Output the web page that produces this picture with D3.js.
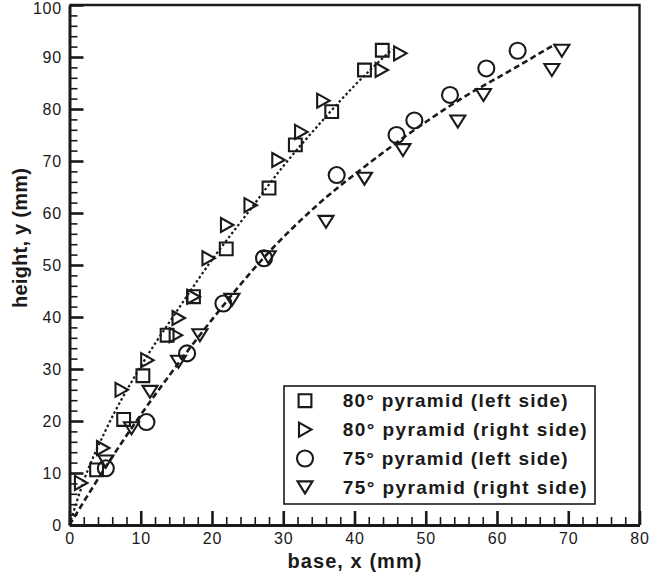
<!DOCTYPE html>
<html>
<head>
<meta charset="utf-8">
<script src="https://cdn.jsdelivr.net/npm/d3@7"></script>
<style>
  html, body { margin: 0; padding: 0; background: #fff; }
  svg { display: block; }
  text { font-family: "Liberation Sans", Arial, sans-serif; fill: #1a1a1a; }
</style>
</head>
<body>
<svg id="chart" width="651" height="579"></svg>
<script>
// ---- data ----
const sq80X  = [43.9, 41.4, 36.8, 31.7, 28.0, 22.0, 17.4, 13.7, 10.3, 7.6, 3.8];
const sq80Y  = [91.3, 87.5, 79.5, 73.1, 64.8, 53.1, 43.9, 36.5, 28.7, 20.3, 10.6];

const rt80X  = [46.4, 43.8, 35.6, 32.5, 29.3, 25.4, 22.1, 19.5, 17.4, 15.3, 14.9, 10.9, 7.3, 4.7, 1.6];
const rt80Y  = [90.7, 87.5, 81.6, 75.6, 70.2, 61.5, 57.7, 51.3, 43.9, 39.8, 36.5, 31.7, 26.0, 14.8, 8.1];

const ci75X  = [62.9, 58.5, 53.4, 48.4, 45.9, 37.5, 27.3, 21.6, 16.5, 10.8, 5.1];
const ci75Y  = [91.2, 87.8, 82.7, 77.8, 75.0, 67.3, 51.3, 42.6, 33.0, 19.8, 10.9];

const dn75X  = [69.1, 67.7, 58.1, 54.5, 46.8, 41.4, 36.0, 27.9, 22.8, 18.3, 15.3, 11.3, 8.7, 5.1];
const dn75Y  = [91.2, 87.5, 82.7, 77.6, 72.1, 66.6, 58.3, 51.5, 43.3, 36.5, 31.4, 25.6, 18.6, 12.2];

// fitted trend lines
const fit80X = [0, 2, 5, 10, 15, 20, 25, 30, 35, 40, 45.3];
const fit80Y = [0, 8.5, 18, 30.5, 41, 51, 60, 69, 77, 84.5, 91.5];
const fit75X = [0, 5, 9.4, 13.6, 20, 27.2, 35, 41.5, 50, 55, 62, 68.2];
const fit75Y = [0, 11, 20, 28, 39.5, 51.3, 61.8, 69, 77.5, 82, 87.5, 92.5];

const xTicks = [0, 10, 20, 30, 40, 50, 60, 70, 80];
const yTicks = [0, 10, 20, 30, 40, 50, 60, 70, 80, 90, 100];
const legendLabels = ["80° pyramid (left side)", "80° pyramid (right side)",
                      "75° pyramid (left side)", "75° pyramid (right side)"];

// ---- layout ----
const INK = "#1a1a1a";
const svg = d3.select("#chart");
const x = d3.scaleLinear().domain([0, 80]).range([69.5, 639.5]);
const y = d3.scaleLinear().domain([0, 100]).range([525, 5]);

// frame (top & right)
svg.append("path")
  .attr("d", `M${x(0)},${y(100)} H${x(80)} V${y(0)}`)
  .attr("fill", "none").attr("stroke", INK).attr("stroke-width", 2.4);

// minor ticks
const xMinor = d3.range(0, 81, 2).filter(v => v % 10 !== 0);
const yMinor = d3.range(0, 101, 2).filter(v => v % 10 !== 0);
svg.append("g").attr("transform", `translate(0,${y(0)})`)
  .call(d3.axisBottom(x).tickValues(xMinor).tickSize(-8).tickFormat(""))
  .call(g => g.select(".domain").remove())
  .call(g => g.selectAll("line").attr("stroke", INK).attr("stroke-width", 1.6));
svg.append("g").attr("transform", `translate(${x(0)},0)`)
  .call(d3.axisLeft(y).tickValues(yMinor).tickSize(-8).tickFormat(""))
  .call(g => g.select(".domain").remove())
  .call(g => g.selectAll("line").attr("stroke", INK).attr("stroke-width", 1.6));

// major axes
const xAxis = svg.append("g").attr("transform", `translate(0,${y(0)})`)
  .call(d3.axisBottom(x).tickValues(xTicks).tickSize(-14).tickSizeOuter(0).tickPadding(8).tickFormat(d3.format("d")));
const yAxis = svg.append("g").attr("transform", `translate(${x(0)},0)`)
  .call(d3.axisLeft(y).tickValues(yTicks).tickSize(-14).tickSizeOuter(0).tickPadding(7.5).tickFormat(d3.format("d")));
[xAxis, yAxis].forEach(g => {
  g.select(".domain").attr("stroke", INK).attr("stroke-width", 3);
  g.selectAll(".tick line").attr("stroke", INK).attr("stroke-width", 2.6);
  g.selectAll(".tick text").attr("fill", INK)
    .style("font-family", '"Liberation Sans", Arial, sans-serif')
    .style("font-size", "16px").style("letter-spacing", "0.8px");
});
// keep the top label just inside the picture (the reference shows it at the edge)
yAxis.selectAll(".tick text").filter(d => d === 100).attr("dy", "0.5em");

// axis titles
svg.append("text")
  .attr("x", (x(0) + x(80)) / 2).attr("y", 568)
  .attr("text-anchor", "middle")
  .attr("textLength", 134).attr("lengthAdjust", "spacing")
  .style("font-size", "20px").style("font-weight", "bold")
  .text("base, x (mm)");
svg.append("text")
  .attr("transform", "translate(27,238) rotate(-90)")
  .attr("text-anchor", "middle")
  .attr("textLength", 140).attr("lengthAdjust", "spacing")
  .style("font-size", "20px").style("font-weight", "bold")
  .text("height, y (mm)");

// fit lines
const line = d3.line().x(d => x(d[0])).y(d => y(d[1])).curve(d3.curveMonotoneX);
svg.append("path")
  .datum(d3.zip(fit80X, fit80Y))
  .attr("d", line).attr("fill", "none")
  .attr("stroke", INK).attr("stroke-width", 2.2).attr("stroke-dasharray", "2.5,2.5");
svg.append("path")
  .datum(d3.zip(fit75X, fit75Y))
  .attr("d", line).attr("fill", "none")
  .attr("stroke", INK).attr("stroke-width", 2.6).attr("stroke-dasharray", "6,3.5");

// marker shapes (centered on 0,0)
const shapes = {
  square: "M-6.4,-6.4H6.4V6.4H-6.4Z",
  right:  "M-6,-7L6.5,0L-6,7Z",
  circle: "M8,0A8,8 0 1,1 -8,0A8,8 0 1,1 8,0Z",
  down:   "M-7.5,-6H7.5L0,6Z"
};
function drawSeries(xs, ys, shape) {
  svg.append("g").selectAll("path")
    .data(d3.zip(xs, ys)).join("path")
    .attr("transform", d => `translate(${x(d[0])},${y(d[1])})`)
    .attr("d", shapes[shape])
    .attr("fill", "none").attr("stroke", INK).attr("stroke-width", 2.1);
}
drawSeries(sq80X, sq80Y, "square");
drawSeries(rt80X, rt80Y, "right");
drawSeries(ci75X, ci75Y, "circle");
drawSeries(dn75X, dn75Y, "down");

// legend
const lg = svg.append("g");
lg.append("rect").attr("x", 284).attr("y", 386).attr("width", 311).attr("height", 118)
  .attr("fill", "#fff").attr("stroke", INK).attr("stroke-width", 1.6);
const legendShapes = ["square", "right", "circle", "down"];
const legendWidths = [225, 244, 225, 244];
legendLabels.forEach((lab, i) => {
  const cy = 400.7 + i * 28.9;
  lg.append("path").attr("transform", `translate(305,${cy})`)
    .attr("d", shapes[legendShapes[i]])
    .attr("fill", "none").attr("stroke", INK).attr("stroke-width", 2.1);
  lg.append("text").attr("x", 342.7).attr("y", cy + 6.5)
    .attr("textLength", legendWidths[i]).attr("lengthAdjust", "spacing")
    .style("font-size", "19px").style("font-weight", "bold")
    .text(lab);
});
</script>
</body>
</html>
